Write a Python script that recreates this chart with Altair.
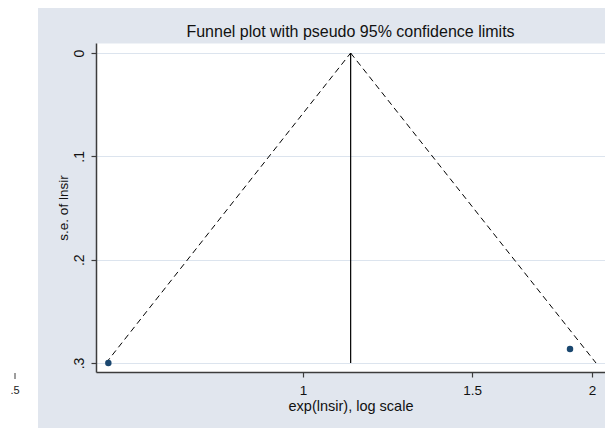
import altair as alt
import pandas as pd

# ---- data ----
study_or = [0.627, 1.897]          # exp(lnsir) of each study
study_se = [0.300, 0.2865]         # s.e. of lnsir
pooled_or = 1.121                  # pooled estimate (vertical line)
se_max = 0.30                      # bottom of funnel
funnel_lower_end = 0.6235          # lower 95% limit at se_max
funnel_upper_end = 2.019           # upper 95% limit at se_max
x_ticks = [1, 1.5, 2]
y_ticks = [0, 0.1, 0.2, 0.3]
y_tick_labels = ["0", ".1", ".2", ".3"]
x_domain = [0.6087, 2.063]
y_domain = [-0.0097, 0.3087]
stray_label = [".5"]
title_text = ["Funnel plot with pseudo 95% confidence limits"]

BG = "#E1E6EE"
GRID = "#DCE4EE"
AX = "#3c3c3c"
FONT = "Liberation Sans"

points = pd.DataFrame({"or": study_or, "se": study_se})
funnel = pd.DataFrame({
    "or": [pooled_or, funnel_lower_end, pooled_or, funnel_upper_end],
    "se": [0, se_max, 0, se_max],
    "side": ["lower", "lower", "upper", "upper"],
})
vline = pd.DataFrame({"or": [pooled_or, pooled_or], "se": [0, se_max]})
one = pd.DataFrame({"label": stray_label})
ttl = pd.DataFrame({"t": title_text})

label_expr = "[" + ",".join("'%s'" % s for s in y_tick_labels) + "][round(datum.value*10)]"

xscale = alt.Scale(type="log", domain=x_domain, nice=False, zero=False)
yscale = alt.Scale(domain=y_domain, reverse=True, nice=False, zero=False)

xaxis = alt.Axis(values=x_ticks, title="exp(lnsir), log scale", grid=False,
                 labelFontSize=13.5, titleFontSize=14.5, labelPadding=6,
                 titleY=34, titleBaseline="middle",
                 tickSize=5, labelFlush=False, labelOverlap=False)
yaxis = alt.Axis(values=y_ticks, labelExpr=label_expr, title="s.e. of lnsir",
                 grid=True, gridColor=GRID, gridWidth=1,
                 labelAngle=270, labelAlign="center", labelBaseline="bottom",
                 labelFontSize=14, titleFontSize=13.5, labelPadding=4.5, titlePadding=2,
                 tickSize=5, labelFlush=False, labelOverlap=False)

X = alt.X("or:Q", scale=xscale, axis=xaxis)
Y = alt.Y("se:Q", scale=yscale, axis=yaxis)

strip = alt.Chart(one).mark_rect(color="white").encode(
    x=alt.value(-88), x2=alt.value(-58), y=alt.value(-35), y2=alt.value(385))
stray_text = alt.Chart(one).mark_text(font=FONT, fontSize=11, color="#222",
                                      align="center", baseline="middle").encode(
    text="label:N", x=alt.value(-81), y=alt.value(348))
stray_tick = alt.Chart(one).mark_rule(color=AX, strokeWidth=1).encode(
    x=alt.value(-81), y=alt.value(330), y2=alt.value(336))
title_mark = alt.Chart(ttl).mark_text(font=FONT, fontSize=16, color="#111",
                                      align="center", baseline="alphabetic").encode(
    text="t:N", x=alt.value(254.5), y=alt.value(-6))

funnel_lines = alt.Chart(funnel).mark_line(color="black", strokeWidth=1,
                                           strokeDash=[6, 4]).encode(
    x=X, y=Y, detail="side:N")
center_line = alt.Chart(vline).mark_line(color="black", strokeWidth=1.2).encode(
    x=X, y=Y, order="se:Q")
dots = alt.Chart(points).mark_circle(size=42, color="#1A476F", opacity=1).encode(
    x=X, y=Y)

chart = alt.layer(strip, stray_text, stray_tick, title_mark,
                  funnel_lines, center_line, dots).properties(
    width=509, height=329,
    autosize=alt.AutoSizeParams(type="none"),
    padding={"left": 88, "top": 35, "right": 0, "bottom": 56},
).configure(background=BG).configure_view(
    fill="white", stroke="transparent"
).configure_axis(
    labelFont=FONT, titleFont=FONT, labelColor="#111", titleColor="#111",
    titleFontWeight="normal", domainColor=AX, domainWidth=1.5,
    tickColor=AX, tickWidth=1.2,
)

chart.save("out.html", embed_options={"renderer": "svg", "actions": False})
